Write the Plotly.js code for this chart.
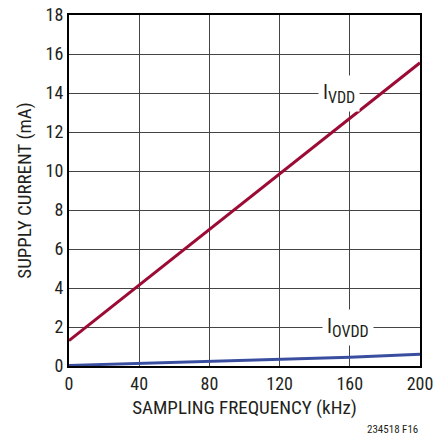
<!DOCTYPE html>
<html><head><meta charset="utf-8">
<script src="https://cdn.plot.ly/plotly-3.0.1.min.js"></script>
<style>html,body{margin:0;padding:0;background:#fff;}#c{width:436px;height:435px;}</style>
</head><body><div id="c"></div>
<script>
const freq = [0, 40, 80, 120, 160, 200];
const ivdd = [1.3, 4.15, 7.0, 9.85, 12.7, 15.55];
const iovdd = [0.03, 0.13, 0.24, 0.33, 0.45, 0.6];
const xTicks = [0, 40, 80, 120, 160, 200];
const yTicks = [0, 2, 4, 6, 8, 10, 12, 14, 16, 18];
const FONT = "'Roboto Condensed', 'DejaVu Sans Condensed', Arial, sans-serif";
const TXT = '#231f20';

const traces = [
  {x: freq, y: ivdd, mode: 'lines', line: {color: '#9c0b35', width: 3}, hoverinfo: 'skip'},
  {x: freq, y: iovdd, mode: 'lines', line: {color: '#3a4ea0', width: 3}, hoverinfo: 'skip'}
];
const layout = {
  width: 436, height: 435,
  margin: {l: 69, r: 16, t: 15, b: 69},
  paper_bgcolor: '#fff', plot_bgcolor: '#fff',
  showlegend: false,
  font: {family: FONT, color: TXT, size: 17},
  xaxis: {
    range: [0, 200], tickvals: xTicks, ticktext: xTicks.map(String),
    showgrid: true, gridcolor: '#444', gridwidth: 1,
    showline: true, linecolor: '#000', linewidth: 2, mirror: true,
    zeroline: false, ticks: '', ticklen: 0,
    tickfont: {family: FONT, size: 18, color: TXT},
    title: {text: 'SAMPLING FREQUENCY (kHz)', font: {family: FONT, size: 19, color: TXT}, standoff: 8}
  },
  yaxis: {
    range: [0, 18], tickvals: yTicks, ticktext: yTicks.map(String),
    showgrid: true, gridcolor: '#444', gridwidth: 1,
    showline: true, linecolor: '#000', linewidth: 2, mirror: true,
    zeroline: false, ticks: '', ticklen: 0,
    tickfont: {family: FONT, size: 18, color: TXT},
    title: {text: 'SUPPLY CURRENT (mA)', font: {family: FONT, size: 19, color: TXT}, standoff: 9}
  },
  annotations: [
    {x: 154, y: 14, xref: 'x', yref: 'y', text: 'I<sub><span style="font-size:16px">VDD</span></sub>', showarrow: false,
     bgcolor: '#fff', font: {family: FONT, size: 20, color: TXT}, borderpad: 4},
    {x: 159, y: 2, xref: 'x', yref: 'y', text: 'I<sub><span style="font-size:16px">OVDD</span></sub>', showarrow: false,
     bgcolor: '#fff', font: {family: FONT, size: 20, color: TXT}, borderpad: 4},
    {x: 1, y: 0, xref: 'paper', yref: 'paper', xanchor: 'right', yanchor: 'top', yshift: -55, xshift: 0,
     text: '234518 F16', showarrow: false, font: {family: FONT, size: 11, color: TXT}}
  ]
};
Plotly.newPlot('c', traces, layout, {staticPlot: true, displayModeBar: false});
</script>
</body></html>
